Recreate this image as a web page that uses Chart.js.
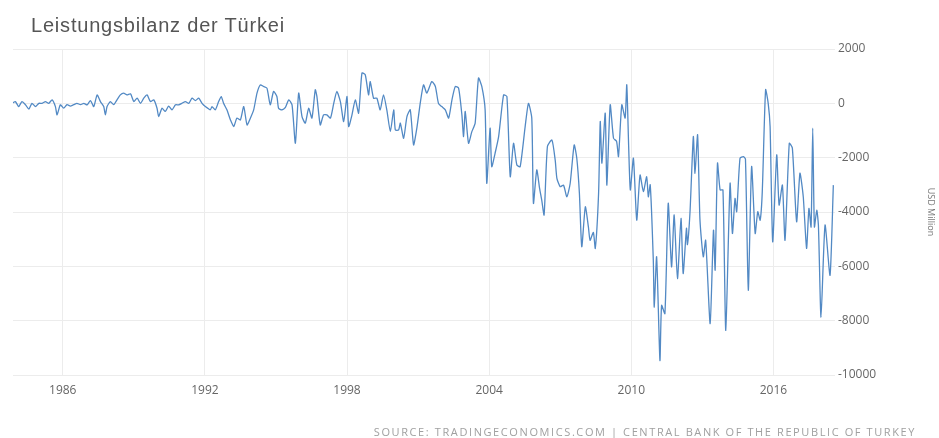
<!DOCTYPE html>
<html>
<head>
<meta charset="utf-8">
<script src="https://cdn.jsdelivr.net/npm/chart.js@4.4.0/dist/chart.umd.min.js"></script>
<style>
    body { margin: 0; background: #fff; }
    #wrap { position: relative; width: 939px; height: 438px; }
    #title { position: absolute; left: 31px; top: 14px; font: 20px "Liberation Sans", Arial, sans-serif; letter-spacing: 0.8px; color: #555; }
    #source { position: absolute; right: 23px; top: 424px; font: 11px "Open Sans", sans-serif; letter-spacing: 1.6px; color: #a0a0a0; }
</style>
</head>
<body>
<div id="wrap">
    <canvas id="caChart" width="939" height="438"></canvas>
    <div id="title">Leistungsbilanz der Türkei</div>
    <div id="source">SOURCE: TRADINGECONOMICS.COM | CENTRAL BANK OF THE REPUBLIC OF TURKEY</div>
</div>
<script>
// Leistungsbilanz (USD Million)
const dates = [
    1983.86, 1984.00, 1984.14, 1984.28, 1984.43, 1984.57, 1984.70, 1984.85, 1984.99, 1985.13,
    1985.27, 1985.41, 1985.55, 1985.69, 1985.76, 1985.90, 1986.04, 1986.18, 1986.32, 1986.46,
    1986.60, 1986.75, 1986.89, 1987.03, 1987.17, 1987.31, 1987.45, 1987.59, 1987.73, 1987.80,
    1987.87, 1988.01, 1988.15, 1988.29, 1988.43, 1988.57, 1988.71, 1988.86, 1989.00, 1989.14,
    1989.28, 1989.42, 1989.56, 1989.70, 1989.84, 1989.98, 1990.05, 1990.19, 1990.33, 1990.47,
    1990.61, 1990.76, 1990.89, 1991.03, 1991.18, 1991.32, 1991.46, 1991.60, 1991.74, 1991.88,
    1992.02, 1992.23, 1992.30, 1992.44, 1992.58, 1992.69, 1992.79, 1992.93, 1993.08, 1993.22,
    1993.35, 1993.50, 1993.64, 1993.78, 1993.92, 1994.06, 1994.20, 1994.34, 1994.48, 1994.62,
    1994.76, 1994.90, 1995.04, 1995.11, 1995.25, 1995.40, 1995.54, 1995.68, 1995.82, 1995.96,
    1996.10, 1996.24, 1996.38, 1996.52, 1996.66, 1996.73, 1996.87, 1997.01, 1997.15, 1997.30,
    1997.44, 1997.57, 1997.72, 1997.86, 1998.00, 1998.07, 1998.21, 1998.35, 1998.49, 1998.63,
    1998.77, 1998.91, 1998.98, 1999.12, 1999.26, 1999.40, 1999.54, 1999.68, 1999.83, 1999.97,
    2000.04, 2000.18, 2000.25, 2000.39, 2000.53, 2000.67, 2000.81, 2000.95, 2001.09, 2001.23,
    2001.37, 2001.58, 2001.73, 2001.86, 2002.00, 2002.15, 2002.29, 2002.43, 2002.57, 2002.71,
    2002.85, 2002.92, 2002.99, 2003.13, 2003.27, 2003.41, 2003.55, 2003.69, 2003.83, 2003.90,
    2004.04, 2004.11, 2004.25, 2004.40, 2004.61, 2004.75, 2004.89, 2005.03, 2005.17, 2005.31,
    2005.52, 2005.66, 2005.80, 2005.87, 2006.01, 2006.13, 2006.22, 2006.32, 2006.46, 2006.65,
    2006.79, 2006.86, 2007.00, 2007.14, 2007.28, 2007.42, 2007.59, 2007.70, 2007.81, 2007.91,
    2008.06, 2008.19, 2008.26, 2008.40, 2008.48, 2008.62, 2008.69, 2008.76, 2008.90, 2008.97,
    2009.11, 2009.25, 2009.38, 2009.46, 2009.60, 2009.74, 2009.81, 2009.89, 2009.96, 2010.09,
    2010.23, 2010.37, 2010.51, 2010.65, 2010.72, 2010.80, 2010.93, 2010.97, 2011.07, 2011.21,
    2011.28, 2011.42, 2011.56, 2011.70, 2011.81, 2011.95, 2012.10, 2012.19, 2012.33, 2012.37,
    2012.48, 2012.62, 2012.69, 2012.80, 2012.90, 2013.04, 2013.14, 2013.33, 2013.47, 2013.54,
    2013.64, 2013.75, 2013.87, 2013.99, 2014.17, 2014.27, 2014.38, 2014.45, 2014.59, 2014.73,
    2014.82, 2014.94, 2015.08, 2015.23, 2015.34, 2015.44, 2015.53, 2015.67, 2015.78, 2015.86,
    2015.97, 2016.14, 2016.24, 2016.38, 2016.49, 2016.67, 2016.80, 2016.98, 2017.12, 2017.26,
    2017.40, 2017.50, 2017.59, 2017.66, 2017.73, 2017.83, 2017.90, 2018.01, 2018.18, 2018.39,
    2018.53
];
const values = [
    0, 65, -120, 65, -55, -215, 0, -120, 0, 0,
    65, 0, 130, -120, -425, -55, -180, -50, -100, -50,
    0, -50, 0, -55, 100, -120, 310, 65, -120, -425,
    -120, 65, -50, 130, 310, 375, 310, 350, 65, 190,
    0, 190, 310, 65, 130, -180, -490, -180, -300, -100,
    -240, -55, -55, 0, 65, 0, 190, 100, 190, 0,
    -120, -240, -120, -240, 65, 250, 0, -240, -610, -855,
    -545, -610, -120, -795, -545, -240, 375, 680, 620, 560,
    -55, 435, 250, -180, -240, -150, 130, -55, -1470, 375,
    -490, -730, -180, -545, 500, 250, -795, -425, -425, -545,
    0, 435, 65, -670, 250, -855, -425, 130, -360, 1115,
    1050, 310, 800, 190, 190, -240, 310, -240, -1040, -240,
    -980, -980, -730, -1285, -490, -240, -1530, -900, 0, 680,
    375, 800, 620, 0, -120, -240, -545, 130, 620, 560,
    -425, -1225, -300, -1470, -1040, -730, 930, 620, -240, -2945,
    -915, -2330, -1840, -1225, 310, 250, -2700, -1470, -2270, -2330,
    -855, 0, -545, -3680, -2450, -3130, -3560, -4110, -1590, -1350,
    -2100, -2760, -3070, -3010, -3440, -2950, -1530, -2020, -3310, -5280,
    -3810, -4550, -5040, -4750, -5340, -3310, -670, -2200, -360, -3010,
    -55, -1285, -1400, -1960, -55, -545, 680, -1600, -3190, -2020,
    -4300, -2640, -3250, -2700, -3440, -3000, -5775, -7500, -5650, -9465,
    -7435, -7740, -3680, -6020, -4110, -6450, -4235, -6265, -4600, -5200,
    -3990, -1225, -2575, -1160, -4300, -5650, -5040, -8110, -4670, -6140,
    -2200, -3190, -3190, -8360, -2945, -4790, -3500, -3990, -2020, -1960,
    -2050, -6880, -2330, -4790, -3990, -4300, -3250, 500, 0, -855,
    -5100, -1900, -3745, -3010, -5040, -1470, -1650, -4360, -2575, -3440,
    -5340, -3870, -4550, -915, -4550, -3930, -4500, -7870, -4480, -6330,
    -3010
];
const tickYears = [1986, 1992, 1998, 2004, 2010, 2016];
const tickValues = [2000, 0, -2000, -4000, -6000, -8000, -10000];

const points = dates.map((d, i) => ({ x: d, y: values[i] }));

const ctx = document.getElementById('caChart');
new Chart(ctx, {
    type: 'line',
    data: {
        datasets: [{
            data: points,
            borderColor: '#5289c4',
            borderWidth: 1.3,
            pointRadius: 0,
            tension: 0.2,
            fill: false
        }]
    },
    options: {
        responsive: false,
        animation: false,
        layout: { padding: { left: 13, top: 49, right: 3, bottom: 36 } },
        plugins: { legend: { display: false }, tooltip: { enabled: false } },
        scales: {
            x: {
                type: 'linear',
                min: 1983.9,
                max: 2018.6,
                afterBuildTicks: (axis) => { axis.ticks = tickYears.map(v => ({ value: v })); },
                afterFit: (axis) => { axis.height = 27; },
                grid: { color: '#ececec', drawTicks: false },
                border: { display: false },
                ticks: {
                    padding: 8,
                    maxRotation: 0,
                    color: '#666',
                    font: { family: 'Open Sans', size: 12 },
                    callback: (v) => String(v)
                }
            },
            y: {
                position: 'right',
                min: -10000,
                max: 2000,
                afterBuildTicks: (axis) => { axis.ticks = tickValues.map(v => ({ value: v })); },
                afterFit: (axis) => { axis.width = 101; },
                grid: { color: '#ececec', drawTicks: false },
                border: { display: false },
                ticks: {
                    padding: 3,
                    color: '#666',
                    font: { family: 'Open Sans', size: 12 },
                    callback: (v) => String(v)
                },
                title: {
                    display: true,
                    text: 'USD Million',
                    color: '#777',
                    font: { family: 'Open Sans', size: 9 },
                    padding: 0
                }
            }
        }
    }
});
</script>
</body>
</html>
